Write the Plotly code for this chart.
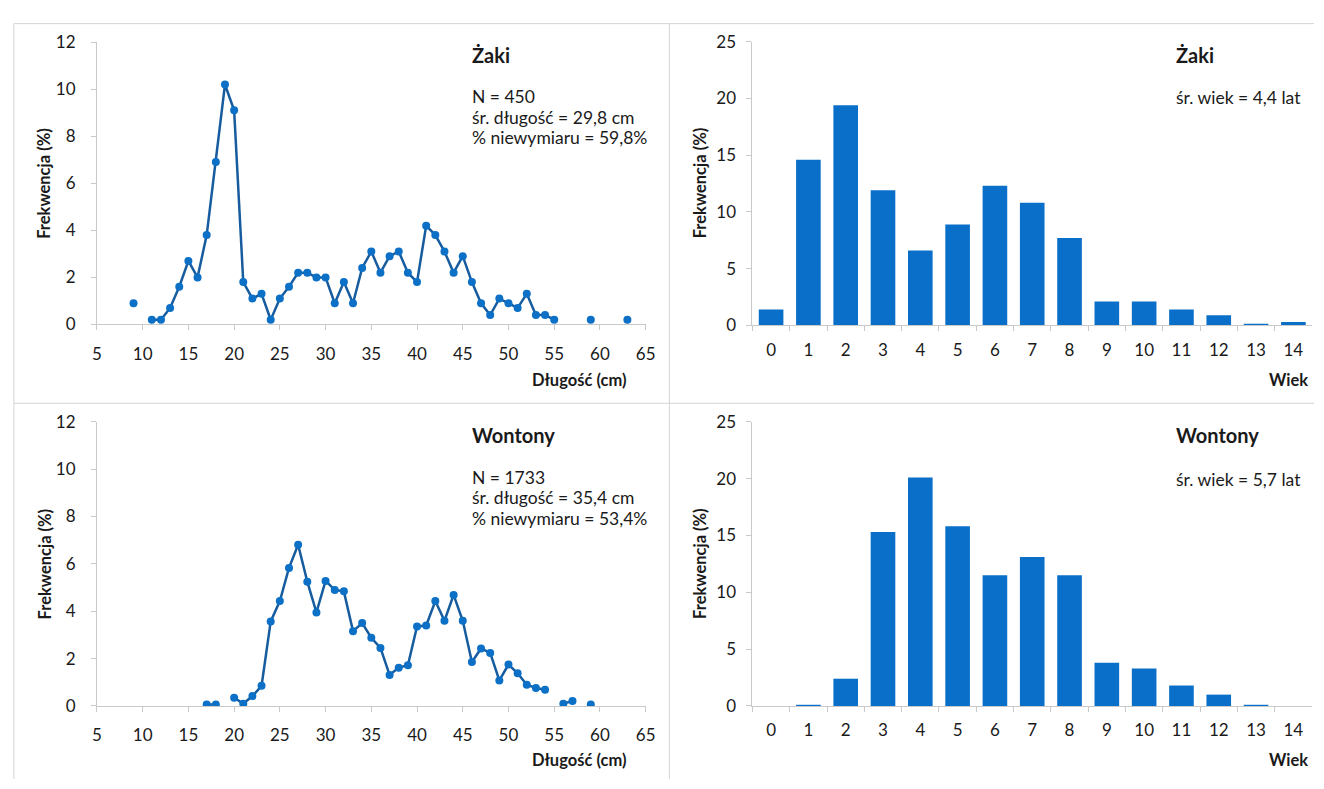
import plotly.graph_objects as go

W, H = 1324, 789

# ---- data ----
lengths_zaki = list(range(9, 64))
freq_zaki = [0.9, None, 0.2, 0.2, 0.7, 1.6, 2.7, 2.0, 3.8, 6.9, 10.2, 9.1, 1.8, 1.1, 1.3,
             0.2, 1.1, 1.6, 2.2, 2.2, 2.0, 2.0, 0.9, 1.8, 0.9, 2.4, 3.1, 2.2, 2.9, 3.1,
             2.2, 1.8, 4.2, 3.8, 3.1, 2.2, 2.9, 1.8, 0.9, 0.4, 1.1, 0.9, 0.7, 1.3, 0.4,
             0.4, 0.2, None, None, None, 0.2, None, None, None, 0.2]

lengths_wontony = list(range(17, 60))
freq_wontony = [0.06, 0.06, None, 0.35, 0.1, 0.42, 0.85, 3.57, 4.43, 5.83, 6.81, 5.25,
                3.95, 5.28, 4.9, 4.84, 3.16, 3.5, 2.88, 2.45, 1.31, 1.62, 1.72, 3.36,
                3.4, 4.43, 3.6, 4.69, 3.6, 1.86, 2.43, 2.24, 1.08, 1.75, 1.38, 0.9,
                0.76, 0.69, None, 0.1, 0.21, None, 0.06]

ages = [str(a) for a in range(15)]
age_zaki = [1.4, 14.6, 19.4, 11.9, 6.6, 8.9, 12.3, 10.8, 7.7, 2.1, 2.1, 1.4, 0.9, 0.1, 0.3]
age_wontony = [0.0, 0.1, 2.4, 15.3, 20.1, 15.8, 11.5, 13.1, 11.5, 3.8, 3.3, 1.8, 1.0, 0.1, 0.0]

len_ticks = list(range(5, 70, 5))

# ---- styling ----
FONT = "Lato, 'Open Sans', sans-serif"
TXT = "#1a1a1a"
AXC = "#c9c9c9"
BAR = "#0a6fc8"
LINE = "#175c9e"
MARK = "#0b70c6"


def px(x):
    return x / W


def py(y):
    return 1 - y / H


fig = go.Figure()

# length distributions
for xs, ys, ax in [(lengths_zaki, freq_zaki, ("x", "y")),
                   (lengths_wontony, freq_wontony, ("x3", "y3"))]:
    fig.add_trace(go.Scatter(
        x=xs, y=ys, mode="lines+markers", connectgaps=False,
        line=dict(color=LINE, width=2.5),
        marker=dict(color=MARK, size=8, line=dict(color=MARK, width=0)),
        xaxis=ax[0], yaxis=ax[1], showlegend=False, hoverinfo="x+y"))

# age distributions
for ys, ax in [(age_zaki, ("x2", "y2")), (age_wontony, ("x4", "y4"))]:
    fig.add_trace(go.Bar(
        x=ages, y=ys, marker=dict(color=BAR, line=dict(width=0)),
        xaxis=ax[0], yaxis=ax[1], showlegend=False))

tickfont = dict(family=FONT, size=17, color=TXT)


def common():
    return dict(showgrid=False, zeroline=False, showline=True, linecolor=AXC,
                linewidth=1, ticks="outside", ticklen=5, tickcolor=AXC,
                tickfont=tickfont, fixedrange=True)


def xlin(domain, anchor):
    return dict(domain=domain, anchor=anchor, range=[5, 65], tickvals=len_ticks,
                ticklabelstandoff=9, **common())


def ylin(domain, anchor, rng, dtick, standoff):
    return dict(domain=domain, anchor=anchor, range=rng, dtick=dtick,
                ticklabelstandoff=standoff, **common())


def xcat(domain, anchor):
    return dict(domain=domain, anchor=anchor, type="category",
                range=[-0.5, 14.5], tickson="boundaries",
                ticklabelstandoff=9, **common())


dx_left = [px(93), px(648)]
dx_right = [px(756), px(1322)]
dy_top = [py(322), py(32)]
dy_bot = [py(714), py(422)]
dy_top_r = [py(323), py(31.5)]
dy_bot_r = [py(714), py(422)]

fig.update_layout(
    width=W, height=H,
    margin=dict(l=0, r=0, t=0, b=0),
    paper_bgcolor="white", plot_bgcolor="white",
    bargap=0.34,
    xaxis=xlin(dx_left, "y"),
    yaxis=ylin(dy_top, "x", [0, 12], 2, 12),
    xaxis2=xcat(dx_right, "y2"),
    yaxis2=ylin(dy_top_r, "x2", [0, 25], 5, 7),
    xaxis3=xlin(dx_left, "y3"),
    yaxis3=ylin(dy_bot, "x3", [0, 12], 2, 12),
    xaxis4=xcat(dx_right, "y4"),
    yaxis4=ylin(dy_bot_r, "x4", [0, 25], 5, 7),
)

annotations = []


def note(x, y, text, size=17.5, bold=False, xanchor="left", angle=0):
    if bold:
        text = "<b>" + text + "</b>"
    annotations.append(dict(
        x=px(x), y=py(y), xref="paper", yref="paper", text=text,
        showarrow=False, xanchor=xanchor, yanchor="middle", textangle=angle,
        borderpad=0, font=dict(family=FONT, size=size, color=TXT)))


# panel captions
note(471, 45, "Żaki", size=20, bold=True)
note(471, 88, "N = 450")
note(471, 109, "śr. długość = 29,8 cm")
note(471, 130, "% niewymiaru = 59,8%")

note(471, 436, "Wontony", size=20, bold=True)
note(471, 479, "N = 1733")
note(471, 500, "śr. długość = 35,4 cm")
note(471, 521, "% niewymiaru = 53,4%")

note(1183, 45, "Żaki", size=20, bold=True)
note(1183, 89, "śr. wiek = 4,4 lat")
note(1183, 436, "Wontony", size=20, bold=True)
note(1183, 481, "śr. wiek = 5,7 lat")

# axis titles
for yc in (177, 568):
    note(40, yc, "Frekwencja (%)", size=16.5, bold=True, xanchor="center", angle=-90)
    note(703, yc, "Frekwencja (%)", size=16.5, bold=True, xanchor="center", angle=-90)
note(629, 379, "Długość (cm)", size=16.5, bold=True, xanchor="right")
note(629, 769, "Długość (cm)", size=16.5, bold=True, xanchor="right")
note(1319, 379, "Wiek", size=16.5, bold=True, xanchor="right")
note(1319, 769, "Wiek", size=16.5, bold=True, xanchor="right")

fig.update_layout(annotations=annotations)

# thin frame lines between the four panels
FRAME = "#d4d4d8"
shapes = [
    dict(type="line", x0=px(9), x1=1, y0=py(13), y1=py(13)),
    dict(type="line", x0=px(9), x1=px(9), y0=py(13), y1=py(789)),
    dict(type="line", x0=px(672), x1=px(672), y0=py(13), y1=py(789)),
    dict(type="line", x0=px(9), x1=1, y0=py(403), y1=py(403)),
]
for s in shapes:
    s.update(xref="paper", yref="paper", line=dict(color=FRAME, width=1), layer="below")
fig.update_layout(shapes=shapes)

fig.write_html("out.html")
